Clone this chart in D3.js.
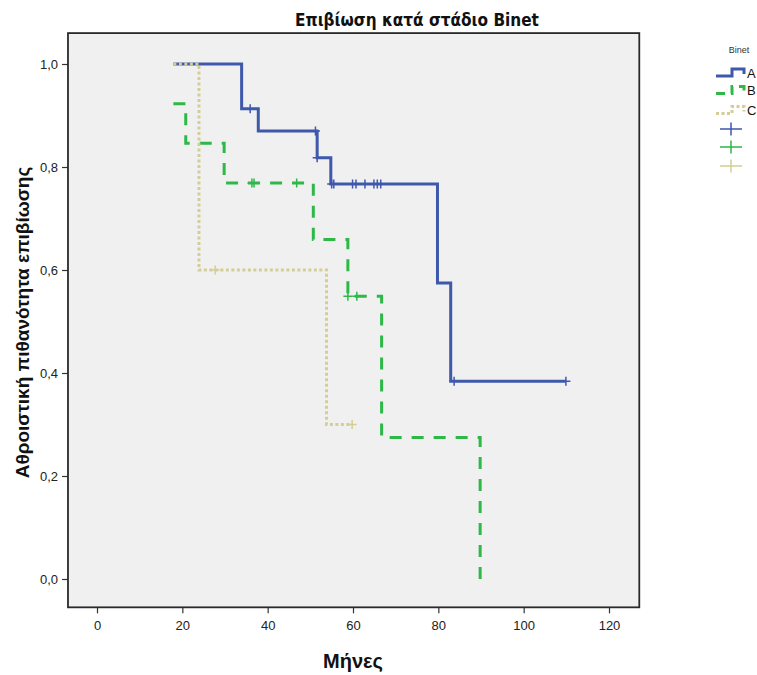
<!DOCTYPE html>
<html>
<head>
<meta charset="utf-8">
<script src="https://cdn.jsdelivr.net/npm/d3@7"></script>
<style>
  html, body { margin: 0; padding: 0; background: #fff; }
  svg { display: block; }
</style>
</head>
<body>
<svg id="chart" width="757" height="675"></svg>
<script>
// Kaplan–Meier survival by Binet stage.
// Each curve: step start times (months) and the survival level held from that time on.
const groups = ["A", "B", "C"];

const timeA = [17.9, 33.9, 37.8, 51.6, 54.8, 79.8, 82.9, 109.9];
const survA = [1.0, 0.913, 0.870, 0.818, 0.767, 0.575, 0.384, 0.384];
const censorA = [35.9, 51.2, 51.6, 55.0, 55.5, 59.9, 60.7, 62.8, 64.9, 65.7, 66.5, 83.7, 109.9];

const timeB = [17.9, 20.8, 29.8, 50.7, 58.8, 66.7, 89.8];
const survB = [0.923, 0.846, 0.769, 0.659, 0.549, 0.275, 0.0];
const censorB = [36.3, 36.8, 46.8, 58.8, 60.9];

const timeC = [17.9, 23.9, 53.8, 59.8];
const survC = [1.0, 0.6, 0.3, 0.3];
const censorC = [27.7, 59.8];

const xTicks = [0, 20, 40, 60, 80, 100, 120];
const yTicks = [0, 0.2, 0.4, 0.6, 0.8, 1.0];

const titleText = "Επιβίωση κατά στάδιο Binet";
const xLabel = "Μήνες";
const yLabel = "Αθροιστική πιθανότητα επιβίωσης";
const legendTitle = "Binet";

// Styling per group (SPSS default palette)
const style = {
  A: { color: "#3E58AC", dash: null, legendDash: null },
  B: { color: "#2EB848", dash: "12,10", legendDash: "9,6" },
  C: { color: "#D3CE97", dash: "3,2.5", legendDash: "3,2.5" }
};

const curves = [
  { key: "A", time: timeA, surv: survA, censor: censorA },
  { key: "B", time: timeB, surv: survB, censor: censorB },
  { key: "C", time: timeC, surv: survC, censor: censorC }
];

const svg = d3.select("#chart");

const x = d3.scaleLinear().domain([0, 120]).range([97, 609]);
const y = d3.scaleLinear().domain([0, 1]).range([579, 64]);

// Plot frame extends a little beyond the data domain on every side
const frame = { x0: x(-6.8), x1: x(127.1), y0: y(1.06), y1: y(-0.055) };

svg.append("rect")
  .attr("x", frame.x0).attr("y", frame.y0)
  .attr("width", frame.x1 - frame.x0).attr("height", frame.y1 - frame.y0)
  .attr("fill", "#F0F0F0");

const fontMain = "Arial, 'Liberation Sans', sans-serif";

// Axes
const xAxis = d3.axisBottom(x).tickValues(xTicks).tickSize(6).tickSizeOuter(0).tickFormat(d3.format("d"));
const gx = svg.append("g").attr("transform", `translate(0,${frame.y1})`).call(xAxis);
gx.select(".domain").remove();
gx.selectAll(".tick line").attr("stroke", "#333").attr("stroke-width", 1.2);
gx.selectAll(".tick text").attr("font-family", fontMain).attr("font-size", 13)
  .attr("fill", "#222").attr("dy", "0.95em").attr("y", 10);

const fmtY = d => d3.format(".1f")(d).replace(".", ",");
const yAxis = d3.axisLeft(y).tickValues(yTicks).tickSize(6).tickSizeOuter(0).tickFormat(fmtY);
const gy = svg.append("g").attr("transform", `translate(${frame.x0},0)`).call(yAxis);
gy.select(".domain").remove();
gy.selectAll(".tick line").attr("stroke", "#333").attr("stroke-width", 1.2);
gy.selectAll(".tick text").attr("font-family", fontMain).attr("font-size", 13)
  .attr("fill", "#222").attr("x", -10);

// Survival step curves
const stepLine = d3.line()
  .x(d => x(d[0]))
  .y(d => y(d[1]))
  .curve(d3.curveStepAfter);

function survivalAt(c, t) {
  let s = c.surv[0];
  for (let i = 0; i < c.time.length; i++) if (c.time[i] <= t) s = c.surv[i];
  return s;
}

const plotG = svg.append("g");
curves.forEach(c => {
  const pts = c.time.map((t, i) => [t, c.surv[i]]);
  plotG.append("path")
    .attr("d", stepLine(pts))
    .attr("fill", "none")
    .attr("stroke", style[c.key].color)
    .attr("stroke-width", 3)
    .attr("stroke-dasharray", style[c.key].dash)
    .attr("stroke-linejoin", "miter")
    .attr("stroke-linecap", "butt");

  // censor marks
  const h = 4.5;
  plotG.append("g").selectAll("path")
    .data(c.censor)
    .join("path")
    .attr("d", t => {
      const px = x(t), py = y(survivalAt(c, t));
      return `M${px - h},${py}H${px + h}M${px},${py - h}V${py + h}`;
    })
    .attr("stroke", style[c.key].color)
    .attr("stroke-width", 1.5)
    .attr("fill", "none");
});

// Frame border
svg.append("rect")
  .attr("x", frame.x0).attr("y", frame.y0)
  .attr("width", frame.x1 - frame.x0).attr("height", frame.y1 - frame.y0)
  .attr("fill", "none").attr("stroke", "#2a2a2a").attr("stroke-width", 1.8);

// Titles
svg.append("text")
  .attr("x", 417).attr("y", 26)
  .attr("text-anchor", "middle")
  .attr("font-family", "'Liberation Sans Narrow', 'Arial Narrow', 'DejaVu Sans Condensed', sans-serif")
  .attr("font-weight", "bold").attr("font-size", 17)
  .attr("fill", "#111")
  .text(titleText);

svg.append("text")
  .attr("x", (x(0) + x(120)) / 2).attr("y", 668)
  .attr("text-anchor", "middle")
  .attr("font-family", fontMain).attr("font-weight", "bold").attr("font-size", 20)
  .attr("fill", "#111")
  .text(xLabel);

svg.append("text")
  .attr("transform", `translate(29,${(y(0) + y(1)) / 2 + 1}) rotate(-90)`)
  .attr("text-anchor", "middle")
  .attr("font-family", fontMain).attr("font-weight", "bold").attr("font-size", 19)
  .attr("fill", "#111")
  .text(yLabel);

// Legend
const leg = svg.append("g");
leg.append("text")
  .attr("x", 739).attr("y", 53)
  .attr("text-anchor", "middle")
  .attr("font-family", "'Liberation Sans Narrow', 'Arial Narrow', sans-serif")
  .attr("font-size", 9).attr("fill", "#333")
  .text(legendTitle);

const legY = [72.5, 90, 110];
groups.forEach((g, i) => {
  const cy = legY[i];
  leg.append("path")
    .attr("d", `M716,${cy + 3.5}H732V${cy - 3.5}H744V${cy + 1.5}`)
    .attr("fill", "none")
    .attr("stroke", style[g].color)
    .attr("stroke-width", 3)
    .attr("stroke-dasharray", style[g].legendDash);
  leg.append("text")
    .attr("x", 747).attr("y", cy + 5)
    .attr("font-family", fontMain).attr("font-size", 13).attr("fill", "#111")
    .text(g);
});

const legCross = [129, 147, 166];
groups.forEach((g, i) => {
  const cy = legCross[i];
  leg.append("path")
    .attr("d", `M720,${cy}H742M731,${cy - 6.5}V${cy + 6.5}`)
    .attr("stroke", style[g].color)
    .attr("stroke-width", 1.5)
    .attr("fill", "none");
});
</script>
</body>
</html>
